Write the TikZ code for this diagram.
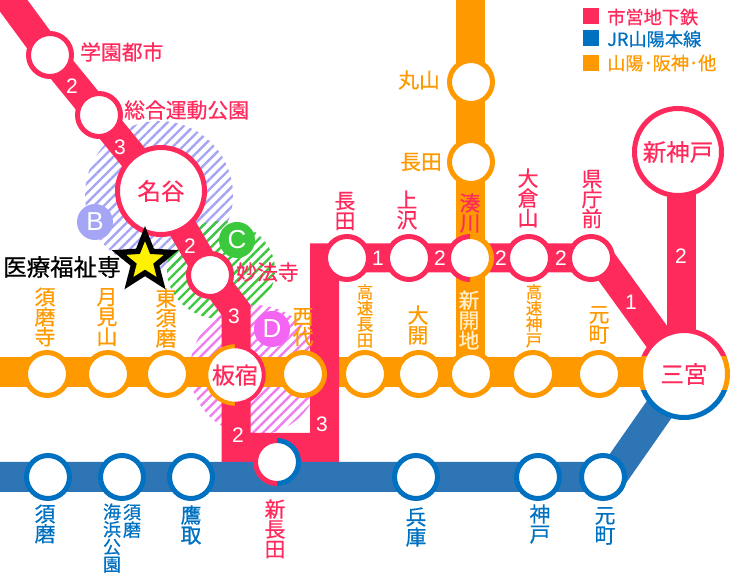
\documentclass[tikz,border=0pt]{standalone}
\usepackage{fontspec}
\setmainfont{Noto Sans CJK JP}[FakeBold=0.6]
\newfontfamily\numfont{Liberation Sans}
\definecolor{MetroRed}{RGB}{255,42,92}
\definecolor{MetroBlue}{RGB}{0,112,192}
\definecolor{MetroOrange}{RGB}{255,153,0}
\definecolor{LineBlue}{RGB}{46,117,182}
\definecolor{AreaB}{RGB}{165,165,245}
\definecolor{AreaC}{RGB}{60,200,60}
\definecolor{AreaD}{RGB}{240,125,240}
\definecolor{PaleText}{RGB}{255,240,200}
\usetikzlibrary{math,backgrounds,patterns.meta,shapes.geometric}
\newcommand*{\fs}[2]{\fontsize{#1}{#2}\selectfont}

\begin{document}
\begin{tikzpicture}[x=1pt,y=-1pt,
    stop/.style={circle,fill=white,line width=5pt,minimum size=43pt,inner sep=0pt},
    bigstop/.style={stop,minimum size=87pt,font=\fs{23.5}{24},text=MetroRed},
    redline/.style={draw=MetroRed,line width=29pt,miter limit=10},
    orangeline/.style={draw=MetroOrange,line width=29.5pt},
    blueline/.style={draw=LineBlue,line width=30pt,line join=round},
    lab/.style={inner sep=0pt,font=\fs{20.8}{20},align=center},
    small/.style={lab,font=\fs{16.5}{16}},
    tiny/.style={lab,font=\fs{18}{17.5}},
    num/.style={inner sep=0pt,text=white,font=\numfont\fs{21}{21}},
    badge/.style={circle,inner sep=0pt,minimum size=36pt,text=white,font=\numfont\fs{26}{26}},
    area/.style={pattern={Lines[angle=45,distance=7pt,line width=2.4pt]}},
    key/.style={inner sep=0pt,minimum size=16pt},
    keytext/.style={inner sep=0pt,anchor=west,font=\fs{18.2}{18}}]
    \tikzmath{
      \rim=21.5; % ring radius of a stop
    }
    \useasboundingbox (0,0) rectangle (740,577);
    % stations
    \node[stop,draw=MetroRed] (Gakuen) at (50,55) {};
    \node[stop,draw=MetroRed] (Sogo) at (99,115) {};
    \node[bigstop,draw=MetroRed] (Myodani) at (161,191) {名谷};
    \node[stop,draw=MetroRed] (Myohoji) at (210,275) {};
    \node[stop,minimum size=57pt,font=\fs{23}{23},text=MetroRed,draw=none] (Itayado) at (235,375) {板宿};
    \node[stop,draw=none] (ShinNagata) at (277,462) {};
    \node[stop,draw=MetroRed] (Nagata) at (347,258) {};
    \node[stop,draw=MetroRed] (Kamisawa) at (409,258) {};
    \node[stop,draw=none] (Minatogawa) at (470,258) {};
    \node[stop,draw=MetroRed] (Okurayama) at (529,258) {};
    \node[stop,draw=MetroRed] (Kencho) at (591,258) {};
    \node[bigstop,draw=MetroRed] (ShinKobe) at (678,152) {新神戸};
    \node[bigstop,draw=none] (Sannomiya) at (684,374) {三宮};
    \node[stop,draw=MetroOrange] (Maruyama) at (471,82) {};
    \node[stop,draw=MetroOrange] (NagataH) at (471,162) {};
    \node[stop,draw=MetroOrange] (Sumadera) at (47,374) {};
    \node[stop,draw=MetroOrange] (Tsukimiyama) at (108,374) {};
    \node[stop,draw=MetroOrange] (HigashiSuma) at (167,374) {};
    \node[stop,draw=MetroOrange] (Nishidai) at (303,374) {};
    \node[stop,draw=MetroOrange] (KosokuNagata) at (365,374) {};
    \node[stop,draw=MetroOrange] (Daikai) at (419,374) {};
    \node[stop,draw=MetroOrange] (Shinkaichi) at (471,374) {};
    \node[stop,draw=MetroOrange] (KosokuKobe) at (533,374) {};
    \node[stop,draw=MetroOrange] (MotomachiH) at (599,374) {};
    \node[stop,draw=MetroBlue] (Suma) at (48,477) {};
    \node[stop,draw=MetroBlue] (SumaKaihin) at (122,477) {};
    \node[stop,draw=MetroBlue] (Takatori) at (191,477) {};
    \node[stop,draw=MetroBlue] (Hyogo) at (416,477) {};
    \node[stop,draw=MetroBlue] (Kobe) at (538,477) {};
    \node[stop,draw=MetroBlue] (Motomachi) at (603,477) {};
    % free ends and bends
    \coordinate (RedTop) at (5,-6);
    \coordinate (RedBend) at (236,310);
    \coordinate (RedLow) at (236,447.5);
    \coordinate (RedCorner) at (324.5,447.5);
    \coordinate (RedUp) at (324.5,258);
    \coordinate (RedOut) at (600,258);
    \coordinate (KobeTop) at (681,152);
    \coordinate (KobeLow) at (681,374);
    \coordinate (OrangeTop) at (470.5,-10);
    \coordinate (OrangeLeft) at (-10,372);
    \coordinate (OrangeRight) at (684,372);
    \coordinate (OrangeDown) at (470.5,372);
    \coordinate (BlueLeft) at (-10,477);
    \coordinate (BlueBend) at (612,477);
    \begin{scope}[on background layer]
      \path[area,pattern color=AreaB] (159,195) circle (74);
      \path[area,pattern color=AreaC] (221,270) ellipse (54 and 49);
      \path[area,pattern color=AreaD] (255,370) circle (65);
      \draw[orangeline] (OrangeLeft) -- (OrangeRight);
      \draw[orangeline] (OrangeTop) -- (OrangeDown);
      \draw[redline] (RedTop) -- (Gakuen.center) -- (Sogo.center) -- (Myodani.center) -- (Myohoji.center) -- (RedBend) -- (RedLow) -- (RedCorner) -- (RedUp) -- (Nagata.center) -- (Kamisawa.center);
      \draw[redline] (Kamisawa.center) -- (Kencho.center) -- (RedOut) -- (Sannomiya.center);
      \draw[redline] (KobeTop) -- (KobeLow);
      \draw[blueline] (BlueLeft) -- (BlueBend) -- (Sannomiya.center);
    \end{scope}
    % split rings
    \draw[MetroOrange,line width=4pt] (Itayado.center) ++(90:28.7) arc (90:270:28.7);
    \draw[MetroRed,line width=4pt] (Itayado.center) ++(90:28.7) arc (90:-90:28.7);
    \draw[MetroBlue,line width=5pt] (ShinNagata.center) ++(90:\rim) arc (90:-90:\rim);
    \draw[MetroRed,line width=5pt] (ShinNagata.center) ++(90:\rim) arc (90:270:\rim);
    \draw[MetroRed,line width=5pt] (Minatogawa.center) ++(90:\rim) arc (90:270:\rim);
    \draw[MetroOrange,line width=5pt] (Minatogawa.center) ++(90:\rim) arc (90:-90:\rim);
    \begin{scope}
      \clip (630,320) rectangle (740,357);
      \draw[MetroRed,line width=5pt] (Sannomiya.center) circle (43.5);
    \end{scope}
    \begin{scope}
      \clip (630,357) rectangle (740,391);
      \draw[MetroOrange,line width=5pt] (Sannomiya.center) circle (43.5);
    \end{scope}
    \begin{scope}
      \clip (630,391) rectangle (740,430);
      \draw[MetroBlue,line width=5pt] (Sannomiya.center) circle (43.5);
    \end{scope}
    % station names
    \node[lab,text=MetroRed,anchor=west] (tGakuen) at (80,52) {学園都市};
    \node[lab,text=MetroRed,anchor=west] (tSogo) at (124,110) {総合運動公園};
    \node[lab,text=MetroRed,anchor=west] (tMyohoji) at (236,272) {妙法寺};
    \node[lab,anchor=west,font=\fs{23.5}{24}] (tHospital) at (3,267) {医療福祉専};
    \node[lab,text=MetroRed] (tNagata) at (345,211) {長\\田};
    \node[lab,text=MetroRed] (tKamisawa) at (407,210) {上\\沢};
    \node[lab,text=MetroRed] (tMinatogawa) at (470,213) {湊\\川};
    \node[lab,text=MetroRed] (tOkurayama) at (528,198) {大\\倉\\山};
    \node[lab,text=MetroRed] (tKencho) at (592,199) {県\\庁\\前};
    \node[lab,text=MetroOrange,anchor=east] (tMaruyama) at (440,80) {丸山};
    \node[lab,text=MetroOrange,anchor=east] (tNagataH) at (442,162) {長田};
    \node[lab,text=MetroOrange] (tSumadera) at (45,317) {須\\磨\\寺};
    \node[lab,text=MetroOrange] (tTsukimiyama) at (107,317) {月\\見\\山};
    \node[lab,text=MetroOrange] (tHigashiSuma) at (166,318) {東\\須\\磨};
    \node[lab,text=MetroOrange] (tNishidai) at (303,327) {西\\代};
    \node[small,text=MetroOrange] (tKosokuNagata) at (365,316) {高\\速\\長\\田};
    \node[lab,text=MetroOrange] (tDaikai) at (418,325) {大\\開};
    \node[lab,text=PaleText] (tShinkaichi) at (469,320) {新\\開\\地};
    \node[small,text=MetroOrange] (tKosokuKobe) at (534,316) {高\\速\\神\\戸};
    \node[lab,text=MetroOrange] (tMotomachiH) at (599,325) {元\\町};
    \node[lab,text=MetroBlue] (tSuma) at (45,524) {須\\磨};
    \node[tiny,text=MetroBlue] (tKaihin) at (112,538) {海\\浜\\公\\園};
    \node[tiny,text=MetroBlue] (tSumaK) at (132,521) {須\\磨};
    \node[lab,text=MetroBlue] (tTakatori) at (191,525) {鷹\\取};
    \node[lab,text=MetroRed] (tShinNagata) at (275,529) {新\\長\\田};
    \node[lab,text=MetroBlue] (tHyogo) at (416,527) {兵\\庫};
    \node[lab,text=MetroBlue] (tKobe) at (540,524) {神\\戸};
    \node[lab,text=MetroBlue] (tMotomachi) at (605,526) {元\\町};
    % section times
    \node[num] (n1) at (72,86) {2};
    \node[num] (n2) at (120,147) {3};
    \node[num] (n3) at (190,246) {2};
    \node[num] (n4) at (234,316) {3};
    \node[num] (n5) at (238,435) {2};
    \node[num] (n6) at (322,424) {3};
    \node[num] (n7) at (378,258) {1};
    \node[num] (n8) at (440,258) {2};
    \node[num] (n9) at (501,258) {2};
    \node[num] (n10) at (561,258) {2};
    \node[num] (n11) at (631,302) {1};
    \node[num] (n12) at (681,256) {2};
    % area badges and star
    \node[badge,fill=AreaB] (AreaBadgeB) at (95,222) {B};
    \node[badge,fill=AreaC] (AreaBadgeC) at (237,240) {C};
    \node[badge,fill=AreaD!80!magenta] (AreaBadgeD) at (272,329) {D};
    \node[star,star points=5,star point ratio=2.3,minimum size=55pt,inner sep=0pt,fill=yellow,draw=black,line width=5.5pt] (Hospital) at (145,261) {};
    % legend
    \node[key,fill=MetroRed] (keyRed) at (591,16) {};
    \node[key,fill=MetroBlue] (keyBlue) at (591,38) {};
    \node[key,fill=MetroOrange] (keyOrange) at (591,63) {};
    \node[keytext,text=MetroRed] (tRed) at (607,17) {市営地下鉄};
    \node[keytext,text=MetroBlue] (tBlue) at (607,39) {JR山陽本線};
    \node[keytext,text=MetroOrange] (tOrange) at (607,63) {山陽･阪神･他};
  \end{tikzpicture}
\end{document}
